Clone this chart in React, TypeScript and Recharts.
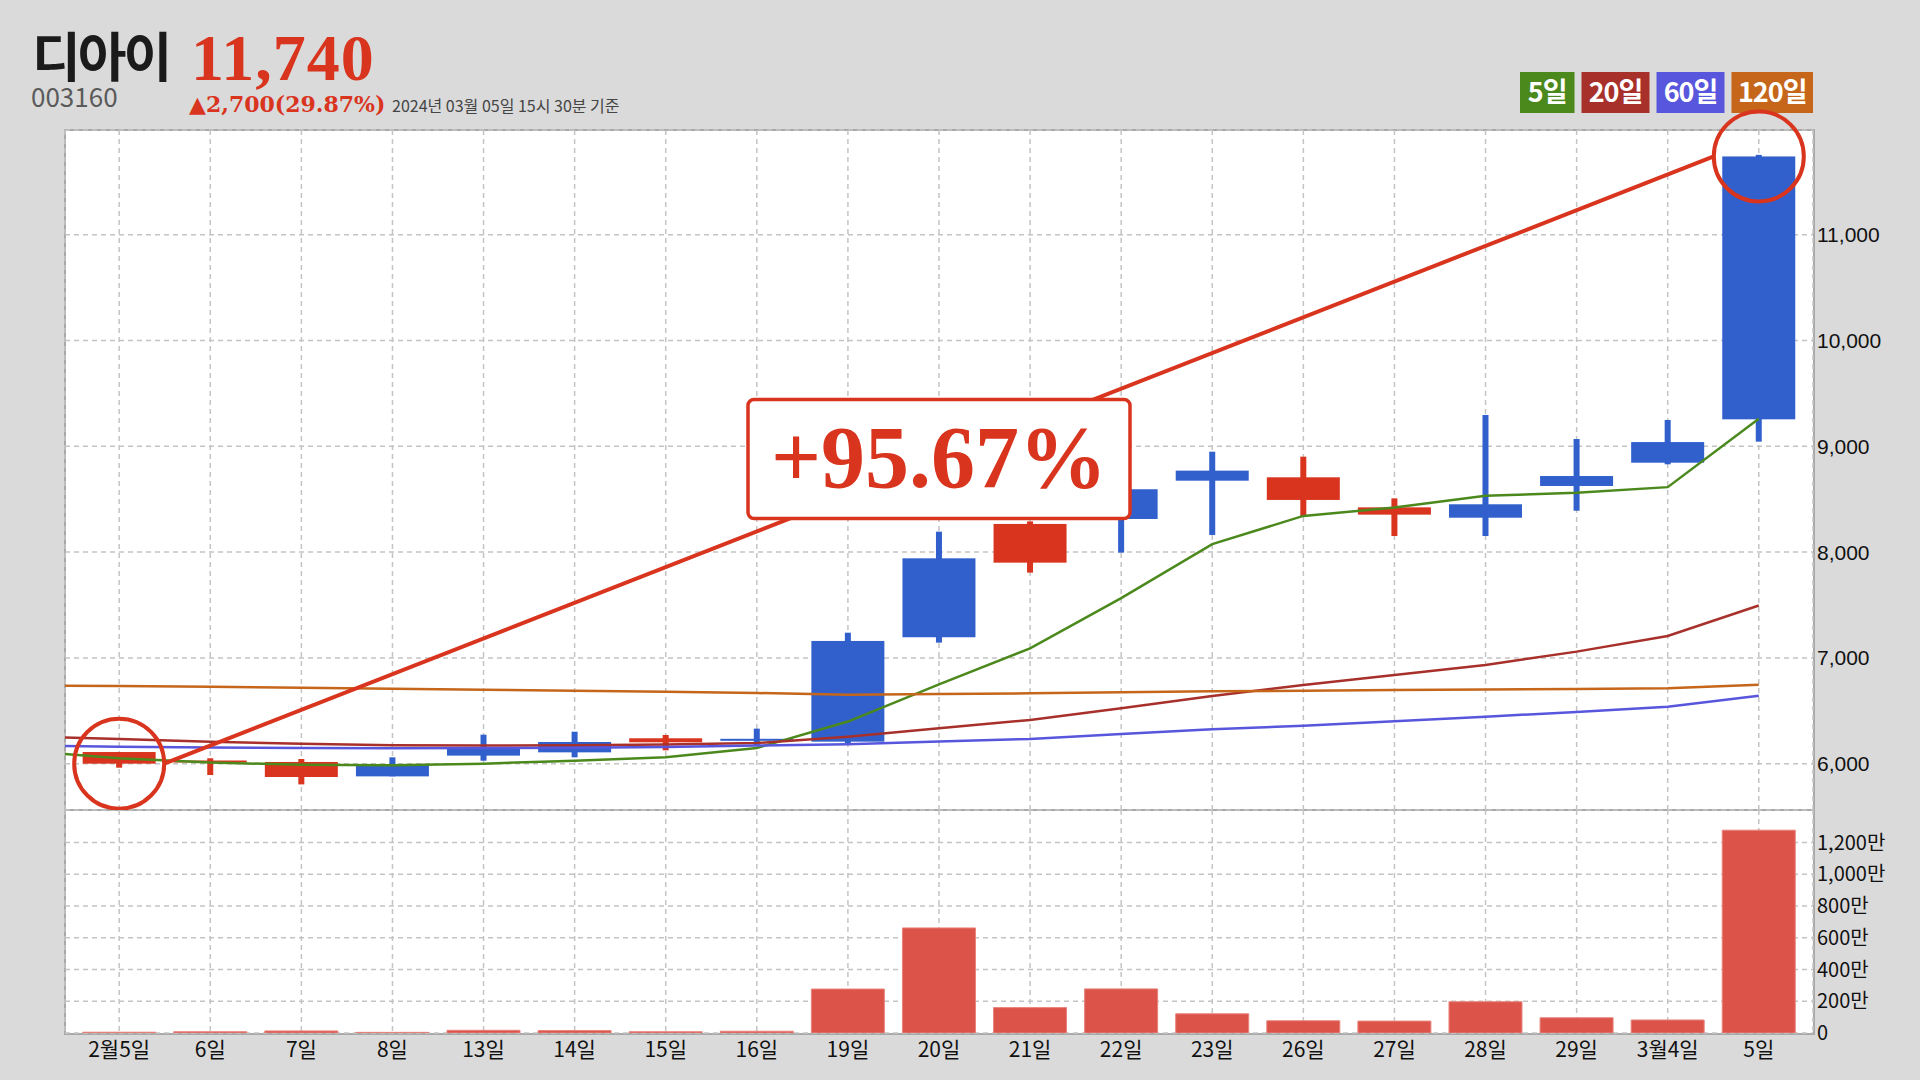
import React from 'react';
import {
  ComposedChart,
  Bar,
  Line,
  XAxis,
  YAxis,
  CartesianGrid,
  ReferenceLine,
  ReferenceDot,
} from 'recharts';

// ---------- data ----------
const stockName = '디아이';
const stockCode = '003160';
const asOfText = '2024년 03월 05일 15시 30분 기준';

const dates = ['2월5일', '6일', '7일', '8일', '13일', '14일', '15일', '16일', '19일', '20일', '21일', '22일', '23일', '26일', '27일', '28일', '29일', '3월4일', '5일'];
const opens = [6110, 6030, 6016, 5880, 6076, 6107, 6240, 6225, 6208, 7195, 8266, 8313, 8675, 8707, 8423, 8325, 8625, 8845, 9255];
const highs = [6110, 6051, 6044, 6060, 6274, 6302, 6271, 6331, 7238, 8193, 8290, 8650, 8949, 8902, 8508, 9296, 9069, 9249, 11755];
const lows = [5962, 5893, 5804, 5880, 6028, 6060, 6126, 6176, 6193, 7144, 7806, 7995, 8162, 8335, 8152, 8152, 8391, 8830, 9044];
const closes = [6000, 6020, 5874, 5990, 6142, 6205, 6202, 6235, 7160, 7941, 7900, 8594, 8770, 8493, 8354, 8452, 8719, 9040, 11740];
const prevClose = 9040;
const volumes = [50000, 80000, 130000, 40000, 170000, 150000, 80000, 110000, 2770000, 6620000, 1600000, 2780000, 1210000, 770000, 750000, 1970000, 960000, 820000, 12780000];

// moving averages: first value belongs to the trading day before 2월5일
const ma5 = [6120, 6051, 6010, 5990, 5984, 6000, 6028, 6060, 6148, 6398, 6749, 7090, 7565, 8075, 8342, 8421, 8533, 8560, 8614, 9261];
const ma20 = [6258, 6232, 6207, 6188, 6175, 6171, 6173, 6180, 6195, 6255, 6334, 6413, 6523, 6640, 6744, 6838, 6933, 7059, 7207, 7495];
const ma60 = [6172, 6161, 6152, 6147, 6145, 6147, 6151, 6158, 6172, 6183, 6209, 6234, 6281, 6325, 6359, 6401, 6444, 6489, 6539, 6642];
const ma120 = [6740, 6734, 6726, 6717, 6708, 6698, 6689, 6679, 6668, 6652, 6659, 6665, 6675, 6684, 6690, 6697, 6700, 6706, 6712, 6746];

const priceTicks = [6000, 7000, 8000, 9000, 10000, 11000];
const volumeTicks = [0, 2000000, 4000000, 6000000, 8000000, 10000000, 12000000];
const priceDomain = [5562, 11990];
const volumeDomain = [0, 14050000];

const maLegend = [
  { label: '5일', key: 'ma5', color: '#4c891d' },
  { label: '20일', key: 'ma20', color: '#a8302a' },
  { label: '60일', key: 'ma60', color: '#5856dc' },
  { label: '120일', key: 'ma120', color: '#c6661b' },
];

// ---------- styles ----------
const UP = '#3160cc';
const DOWN = '#d9341e';
const ACCENT = '#d9341e';
const VOL = '#dc5449';
const GRID = '#c4c4c4';
const KR = "'Noto Sans CJK KR', 'Noto Sans', sans-serif";

const xDomain = [-0.595, dates.length - 1 + 0.595];
const xTicks = dates.map((_, i) => i);

const priceRows: any[] = [];
for (let k = -1; k < dates.length; k++) {
  const row: any = {
    i: k,
    ma5: ma5[k + 1],
    ma20: ma20[k + 1],
    ma60: ma60[k + 1],
    ma120: ma120[k + 1],
  };
  if (k >= 0) {
    row.candle = [lows[k], highs[k]];
    row.open = opens[k];
    row.high = highs[k];
    row.low = lows[k];
    row.close = closes[k];
  }
  priceRows.push(row);
}
const volumeRows = dates.map((d, i) => ({ i, vol: volumes[i] }));

const firstClose = closes[0];
const lastClose = closes[closes.length - 1];
const gainPct = ((lastClose / firstClose - 1) * 100).toFixed(2);
const change = lastClose - prevClose;
const changePct = ((change / prevClose) * 100).toFixed(2);

const Candle = (props: any) => {
  const { x, y, width, height, payload } = props;
  if (!payload || payload.open == null || x == null || isNaN(x)) return null;
  const { open, close, high, low } = payload;
  const top = Math.min(y, y + height);
  const h = Math.abs(height);
  const span = high - low || 1;
  const py = (v: number) => top + ((high - v) / span) * h;
  const color = close >= open ? UP : DOWN;
  const bodyTop = py(Math.max(open, close));
  const bodyBot = py(Math.min(open, close));
  const cx = x + width / 2;
  const wick = 6;
  return (
    <g>
      <rect x={cx - wick / 2} y={top} width={wick} height={Math.max(h, 1)} fill={color} />
      <rect x={x} y={bodyTop} width={width} height={Math.max(bodyBot - bodyTop, 2)} fill={color} />
    </g>
  );
};

const TrendShape = (props: any) => {
  const { x1, y1, x2, y2 } = props;
  const r = 45;
  return <line x1={x1 + r} y1={y1} x2={x2 - r} y2={y2} stroke={ACCENT} strokeWidth={4} />;
};

const GainBox = (props: any) => {
  const { cx, cy } = props;
  const w = 382;
  const h = 119;
  return (
    <g>
      <rect x={cx - w / 2} y={cy - h / 2} width={w} height={h} rx={6} ry={6} fill="#ffffff" stroke={ACCENT} strokeWidth={3.5} />
      <text
        x={cx}
        y={cy + 28}
        textAnchor="middle"
        fill={ACCENT}
        style={{ fontFamily: "'Liberation Serif', serif", fontWeight: 700, fontSize: 88 }}
      >
        {`+${gainPct}%`}
      </text>
    </g>
  );
};

const fmtVol = (v: number) => (v === 0 ? '0' : `${(v / 10000).toLocaleString('en-US')}만`);

export default function App() {
  const legendWidths = maLegend.map((m) => 41 + 13.5 * m.label.replace('일', '').length);
  let cursor = 1813;
  const legendX: number[] = [];
  for (let k = maLegend.length - 1; k >= 0; k--) {
    legendX[k] = cursor - legendWidths[k];
    cursor = legendX[k] - 7;
  }

  return (
    <div style={{ position: 'absolute', left: 0, top: 0, width: 1920, height: 1080, background: '#dadada', overflow: 'hidden' }}>
      {/* header */}
      <svg width={1920} height={128} style={{ position: 'absolute', left: 0, top: 0 }}>
        <text x={32} y={77} fill="#1b1b1b" style={{ fontFamily: KR, fontWeight: 700, fontSize: 53, letterSpacing: -3 }}>
          {stockName}
        </text>
        <text x={191} y={80} fill={ACCENT} style={{ fontFamily: "'Liberation Serif', serif", fontWeight: 700, fontSize: 66, letterSpacing: 1 }}>
          {lastClose.toLocaleString('en-US')}
        </text>
        <text x={31} y={107} fill="#5a5a5a" style={{ fontFamily: KR, fontSize: 26 }}>
          {stockCode}
        </text>
        <text x={189} y={112} fill={ACCENT} style={{ fontFamily: "'DejaVu Serif', serif", fontWeight: 700, fontSize: 22 }}>
          {`▲${change.toLocaleString('en-US')}(${changePct}%)`}
        </text>
        <text x={392} y={112} fill="#454545" style={{ fontFamily: KR, fontSize: 16 }}>
          {asOfText}
        </text>
        {maLegend.map((m, k) => (
          <g key={m.key}>
            <rect x={legendX[k]} y={72} width={legendWidths[k]} height={41} fill={m.color} />
            <text
              x={legendX[k] + legendWidths[k] / 2}
              y={102}
              textAnchor="middle"
              fill="#ffffff"
              style={{ fontFamily: KR, fontWeight: 700, fontSize: 27, letterSpacing: -1 }}
            >
              {m.label}
            </text>
          </g>
        ))}
      </svg>

      {/* plot frame */}
      <div style={{ position: 'absolute', left: 64, top: 129, width: 1751, height: 906, boxSizing: 'border-box', border: '2px solid #a9a9a9', background: '#ffffff' }} />
      <div style={{ position: 'absolute', left: 64, top: 809, width: 1751, height: 2, background: '#a9a9a9' }} />

      {/* price panel */}
      <div style={{ position: 'absolute', left: 0, top: 0 }}>
        <ComposedChart width={1920} height={810} data={priceRows} margin={{ top: 130, right: 7, bottom: 0, left: 65 }}>
          <CartesianGrid stroke={GRID} strokeDasharray="5 4" strokeWidth={1.5} />
          <XAxis dataKey="i" type="number" domain={xDomain} ticks={xTicks} allowDataOverflow hide />
          <YAxis
            orientation="right"
            type="number"
            domain={priceDomain}
            ticks={priceTicks}
            allowDataOverflow
            width={100}
            axisLine={false}
            tickLine={false}
            tickSize={0}
            tickMargin={4}
            interval={0}
            tickFormatter={(v: number) => v.toLocaleString('en-US')}
            tick={{ fill: '#111111', fontSize: 21, fontFamily: "'Liberation Sans', Arial, sans-serif" }}
          />
          <Bar dataKey="candle" barSize={73} shape={<Candle />} isAnimationActive={false} />
          {maLegend.map((m) => (
            <Line
              key={m.key}
              dataKey={m.key}
              type="linear"
              stroke={m.color}
              strokeWidth={2.5}
              dot={false}
              activeDot={false}
              isAnimationActive={false}
            />
          ))}
          <ReferenceLine
            segment={[
              { x: 0, y: firstClose },
              { x: dates.length - 1, y: lastClose },
            ]}
            shape={TrendShape}
          />
          <ReferenceDot x={0} y={firstClose} r={45} fill="none" stroke={ACCENT} strokeWidth={4} ifOverflow="visible" />
          <ReferenceDot x={dates.length - 1} y={lastClose} r={45} fill="none" stroke={ACCENT} strokeWidth={4} ifOverflow="visible" />
          <ReferenceDot x={9} y={8880} r={1} ifOverflow="visible" shape={GainBox} />
        </ComposedChart>
      </div>

      {/* volume panel */}
      <div style={{ position: 'absolute', left: 0, top: 810 }}>
        <ComposedChart width={1920} height={270} data={volumeRows} margin={{ top: 0, right: 7, bottom: 7, left: 65 }}>
          <CartesianGrid stroke={GRID} strokeDasharray="5 4" strokeWidth={1.5} />
          <XAxis
            dataKey="i"
            type="number"
            domain={xDomain}
            ticks={xTicks}
            allowDataOverflow
            interval={0}
            height={40}
            axisLine={false}
            tickLine={false}
            tickSize={0}
            tickMargin={9}
            tickFormatter={(v: number) => dates[v] ?? ''}
            tick={{ fill: '#111111', fontSize: 21, fontFamily: KR }}
          />
          <YAxis
            orientation="right"
            type="number"
            domain={volumeDomain}
            ticks={volumeTicks}
            allowDataOverflow
            width={100}
            axisLine={false}
            tickLine={false}
            tickSize={0}
            tickMargin={4}
            interval={0}
            tickFormatter={fmtVol}
            tick={{ fill: '#111111', fontSize: 20, fontFamily: KR }}
          />
          <Bar dataKey="vol" barSize={73} fill={VOL} stroke="#e8837b" strokeWidth={1} isAnimationActive={false} />
        </ComposedChart>
      </div>
    </div>
  );
}
